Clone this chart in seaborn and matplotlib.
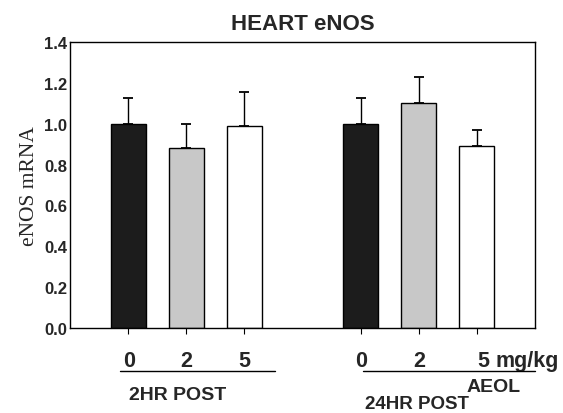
import matplotlib
matplotlib.use("Agg")
import matplotlib.pyplot as plt
import seaborn as sns
import pandas as pd
import numpy as np

# Data
positions = [0, 1, 2, 4, 5, 6]
doses = ["0", "2", "5", "0", "2", "5"]
means = [1.00, 0.88, 0.99, 1.00, 1.10, 0.89]
errors = [0.125, 0.12, 0.165, 0.127, 0.13, 0.08]
bar_colors = ["#1c1c1c", "#c8c8c8", "#ffffff", "#1c1c1c", "#c8c8c8", "#ffffff"]
y_ticks = [0.0, 0.2, 0.4, 0.6, 0.8, 1.0, 1.2, 1.4]

df = pd.DataFrame({"pos": positions, "mean": means, "id": [str(i) for i in range(6)]})

sns.set_style("white")
plt.rcParams["font.family"] = ["Liberation Sans", "DejaVu Sans"]

fig = plt.figure(figsize=(5.63, 4.14), dpi=100)
ax = fig.add_axes([70/563, 1-329/414, 465/563, 286/414])

sns.barplot(data=df, x="pos", y="mean", hue="id", palette=bar_colors,
            native_scale=True, width=0.6, edgecolor="black", linewidth=1.0,
            errorbar=None, legend=False, dodge=False, ax=ax)
ax.errorbar(positions, means, yerr=[np.zeros(len(errors)), errors], fmt="none",
            ecolor="black", elinewidth=1.0, capsize=3.7, capthick=1.3, zorder=3)

ax.set_xlim(-1, 7)
ax.set_ylim(0, 1.4)
ax.set_yticks(y_ticks)
ax.set_yticklabels([f"{v:.1f}" for v in y_ticks], fontsize=12, fontweight="bold")
ax.tick_params(axis="y", direction="in", length=3, pad=2, color="black")
ax.set_xticks(positions)
ax.set_xticklabels([])
ax.tick_params(axis="x", direction="out", length=4, color="black", bottom=True)
for s in ax.spines.values():
    s.set_visible(True)
    s.set_color("black")
    s.set_linewidth(1.0)
ax.set_xlabel("")
ax.set_ylabel("eNOS mRNA", family=["Liberation Serif", "DejaVu Serif"], fontsize=15.5, labelpad=4)
ax.set_title("HEART eNOS", fontsize=16, fontweight="bold", pad=9)

# dose labels under ticks
offsets = [1, 0, 0, 1, 0, 6]
for p, d, o in zip(positions, doses, offsets):
    ax.annotate(d, xy=(p, 0), xycoords=("data", "axes fraction"), xytext=(o, -33),
                textcoords="offset pixels", ha="center", va="center",
                fontsize=15.5, fontweight="bold")
ax.annotate("mg/kg", xy=(6, 0), xycoords=("data", "axes fraction"), xytext=(19, -33),
            textcoords="offset pixels", ha="left", va="center",
            fontsize=15.5, fontweight="bold", annotation_clip=False)

# group underlines and labels (figure pixel coords)
fig.add_artist(plt.Line2D([120/563, 275/563], [1-372/414, 1-372/414], color="black", lw=1.0))
fig.add_artist(plt.Line2D([363/563, 535/563], [1-372/414, 1-372/414], color="black", lw=1.0))
fig.text(178/563, 1-396/414, "2HR POST", ha="center", va="center", fontsize=14, fontweight="bold")
fig.text(494/563, 1-388/414, "AEOL", ha="center", va="center", fontsize=14, fontweight="bold")
fig.text(417/563, 1-405/414, "24HR POST", ha="center", va="center", fontsize=13.5, fontweight="bold")

fig.savefig("out.png", dpi=100)
